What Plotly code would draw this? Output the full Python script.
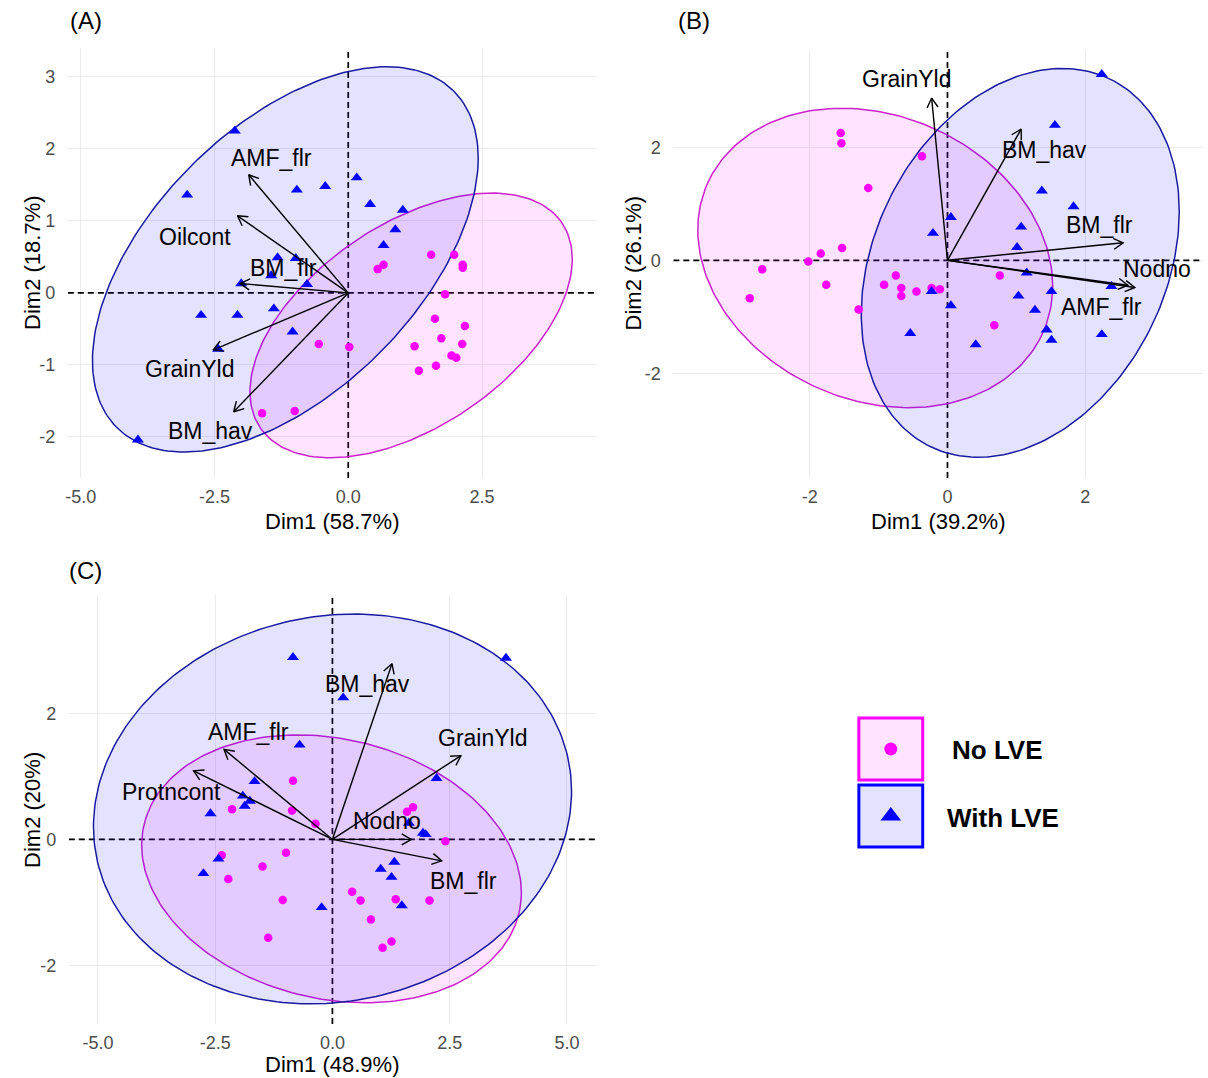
import numpy as np
import plotly.graph_objects as go

W, H = 1208, 1078
FONT = "Arial, 'Liberation Sans', sans-serif"

# ---------------- Panel A ----------------
A_no_x = [1.55, 1.98, 2.14, 2.14, 0.55, 0.66, 1.81, 1.62, 2.18, 1.74, 1.24, 2.13, 1.93, 2.02, 1.64, 1.32, -0.55, 0.02, -1.61, -1.00]
A_no_y = [0.53, 0.53, 0.39, 0.35, 0.33, 0.39, -0.02, -0.36, -0.46, -0.63, -0.74, -0.71, -0.87, -0.90, -1.01, -1.08, -0.71, -0.75, -1.67, -1.64]
A_with_x = [-2.12, -3.01, -0.96, -0.43, 0.16, 0.41, 1.02, 0.88, 0.66, -1.32, -0.98, -1.44, -2.00, -0.77, -2.75, -2.07, -1.39, -1.04, -2.43, -3.93]
A_with_y = [2.25, 1.36, 1.43, 1.48, 1.60, 1.23, 1.15, 0.88, 0.66, 0.49, 0.48, 0.24, 0.13, 0.12, -0.31, -0.31, -0.22, -0.54, -0.78, -2.04]
A_vars = ["AMF_flr", "Oilcont", "BM_flr", "GrainYld", "BM_hav"]
A_var_x = [-1.86, -2.07, -2.02, -2.52, -2.14]
A_var_y = [1.64, 1.07, 0.13, -0.79, -1.65]
A_xticks = [-5.0, -2.5, 0.0, 2.5]
A_yticks = [-2, -1, 0, 1, 2, 3]

# ---------------- Panel B ----------------
B_no_x = [-1.55, -1.54, -0.37, -1.15, -1.53, -1.84, -2.02, -2.69, -1.76, -2.87, -0.75, -0.92, -0.67, -0.67, -0.45, -0.23, -0.11, -1.29, 0.76, 0.68]
B_no_y = [2.25, 2.07, 1.84, 1.28, 0.22, 0.12, -0.02, -0.16, -0.43, -0.67, -0.27, -0.43, -0.49, -0.63, -0.55, -0.49, -0.51, -0.87, -0.27, -1.15]
B_with_x = [2.24, 1.56, 1.37, 1.83, 0.05, -0.21, 1.07, 1.01, 1.15, 2.38, 1.51, -0.23, 1.03, 0.05, 1.27, 1.44, 1.51, -0.54, 0.41, 2.24]
B_with_y = [3.29, 2.39, 1.23, 0.95, 0.76, 0.48, 0.59, 0.23, -0.22, -0.46, -0.55, -0.55, -0.63, -0.80, -0.88, -1.23, -1.41, -1.29, -1.49, -1.31]
B_vars = ["GrainYld", "BM_hav", "BM_flr", "Nodno", "AMF_flr"]
B_var_x = [-0.23, 1.07, 2.55, 2.72, 2.62]
B_var_y = [2.87, 2.32, 0.31, -0.48, -0.44]
B_xticks = [-2, 0, 2]
B_yticks = [-2, 0, 2]

# ---------------- Panel C ----------------
C_no_x = [-0.84, -0.86, -2.14, -0.36, 1.72, 1.59, 2.41, -2.36, -0.99, -1.49, -2.22, -1.06, 0.42, 0.60, 1.35, 2.07, 0.82, -1.37, 1.26, 1.07]
C_no_y = [0.93, 0.46, 0.48, 0.25, 0.51, 0.44, -0.03, -0.25, -0.21, -0.43, -0.63, -0.96, -0.83, -0.97, -0.95, -0.97, -1.27, -1.56, -1.62, -1.72]
C_with_x = [-0.84, 3.70, 0.23, -0.70, 2.22, -1.66, -1.91, -1.76, -1.87, -2.60, 1.63, 1.93, 1.99, -2.43, -2.75, 1.32, 1.03, 1.26, 1.48, -0.23]
C_with_y = [2.89, 2.88, 2.25, 1.50, 0.97, 0.92, 0.69, 0.61, 0.53, 0.41, 0.26, 0.10, 0.08, -0.31, -0.54, -0.36, -0.47, -0.60, -1.05, -1.08]
C_vars = ["BM_hav", "AMF_flr", "Protncont", "GrainYld", "Nodno", "BM_flr"]
C_var_x = [1.27, -2.31, -2.96, 2.74, 1.68, 2.33]
C_var_y = [2.79, 1.43, 1.09, 1.33, 0.00, -0.34]
C_xticks = [-5.0, -2.5, 0.0, 2.5, 5.0]
C_yticks = [-2, 0, 2]

groups = ["No LVE", "With LVE"]

# ---------------- styling / layout (pixels) ----------------
PINK, BLUE = "#FF00FF", "#0000FF"
PINK_LINE, BLUE_LINE = "#CC22CC", "#1A1AA0"
PINK_FILL, BLUE_FILL = "rgba(255,0,255,0.11)", "rgba(0,0,255,0.11)"

GEOM = {
    "A": dict(px=(65, 595), py=(48, 478), xr=(-5.24, 4.64), yr=(-2.57, 3.40), ax="", fmt="{:.1f}",
              xt="Dim1 (58.7%)", yt="Dim2 (18.7%)", xt_pos=(330, 521), yt_pos=(29, 263), lab_pos=(83, 21)),
    "B": dict(px=(672, 1203), py=(50, 478), xr=(-3.98, 3.71), yr=(-3.85, 3.72), ax="2", fmt="{:.0f}",
              xt="Dim1 (39.2%)", yt="Dim2 (26.1%)", xt_pos=(937, 521), yt_pos=(632, 263), lab_pos=(693, 21)),
    "C": dict(px=(66, 594), py=(595, 1024), xr=(-5.62, 5.61), yr=(-2.93, 3.88), ax="3", fmt="{:.1f}",
              xt="Dim1 (48.9%)", yt="Dim2 (20%)", xt_pos=(330, 1064), yt_pos=(29, 810), lab_pos=(83, 570)),
}
# label offsets (px, up positive) relative to arrow tips
LABEL_SHIFT = {
    "A": [(23, 17), (-42, -21), (43, 16), (-24, -19), (-23, -19)],
    "B": [(-25, 19), (23, -21), (-24, 18), (22, 18), (-26, -22)],
    "C": [(-24, -20), (24, 17), (-22, -21), (22, 18), (-24, 18), (22, -20)],
}
DATA = {
    "A": (A_no_x, A_no_y, A_with_x, A_with_y, A_vars, A_var_x, A_var_y, A_xticks, A_yticks),
    "B": (B_no_x, B_no_y, B_with_x, B_with_y, B_vars, B_var_x, B_var_y, B_xticks, B_yticks),
    "C": (C_no_x, C_no_y, C_with_x, C_with_y, C_vars, C_var_x, C_var_y, C_xticks, C_yticks),
}


def ellipse(xs, ys, level=0.95, n=241):
    pts = np.column_stack([xs, ys])
    m = pts.mean(axis=0)
    cov = np.cov(pts, rowvar=False)
    dfd = len(xs) - 1
    qf = dfd / 2 * ((1 - level) ** (-2 / dfd) - 1)  # F(2, dfd) quantile
    r = np.sqrt(2 * qf)
    U = np.linalg.cholesky(cov).T
    t = np.linspace(0, 2 * np.pi, n)
    circ = np.column_stack([np.cos(t), np.sin(t)])
    e = m + r * circ @ U
    return e[:, 0].tolist(), e[:, 1].tolist()


def arrows(vx, vy, g, head=11, ang=30):
    sx = (g["px"][1] - g["px"][0]) / (g["xr"][1] - g["xr"][0])
    sy = (g["py"][1] - g["py"][0]) / (g["yr"][1] - g["yr"][0])
    X, Y = [], []
    a = np.radians(ang)
    for tx, ty in zip(vx, vy):
        X += [0, tx, None]
        Y += [0, ty, None]
        px, py = tx * sx, ty * sy
        L = np.hypot(px, py)
        ux, uy = -px / L, -py / L
        wings = []
        for s in (a, -a):
            wx = ux * np.cos(s) - uy * np.sin(s)
            wy = ux * np.sin(s) + uy * np.cos(s)
            wings.append((float(tx + wx * head / sx), float(ty + wy * head / sy)))
        X += [wings[0][0], tx, wings[1][0], None]
        Y += [wings[0][1], ty, wings[1][1], None]
    return X, Y


fig = go.Figure()
annotations = []
shapes = []
layout = {}


def px_x(p):
    return p / W


def px_y(p):
    return 1 - p / H


DASH = dict(color="black", width=1.7, dash="6px,4px")

for key, g in GEOM.items():
    nx, ny, wx, wy, vars_, vx, vy, xt, yt = DATA[key]
    xa = "x" + g["ax"]
    ya = "y" + g["ax"]
    # dashed zero reference lines
    fig.add_trace(go.Scatter(x=[0, 0], y=list(g["yr"]), mode="lines", line=DASH, xaxis=xa, yaxis=ya,
                             hoverinfo="skip"))
    fig.add_trace(go.Scatter(x=list(g["xr"]), y=[0, 0], mode="lines", line=DASH, xaxis=xa, yaxis=ya,
                             hoverinfo="skip"))
    # ellipses
    for xs, ys, fc, lc in ((nx, ny, PINK_FILL, PINK_LINE), (wx, wy, BLUE_FILL, BLUE_LINE)):
        ex, ey = ellipse(xs, ys)
        fig.add_trace(go.Scatter(x=ex, y=ey, mode="lines", fill="toself", fillcolor=fc,
                                 line=dict(color=lc, width=1.5), xaxis=xa, yaxis=ya, hoverinfo="skip"))
    # points
    fig.add_trace(go.Scatter(x=nx, y=ny, mode="markers", name=groups[0],
                             marker=dict(symbol="circle", size=8.5, color=PINK), xaxis=xa, yaxis=ya))
    fig.add_trace(go.Scatter(x=wx, y=wy, mode="markers", name=groups[1],
                             marker=dict(symbol="triangle-up", size=10.5, color=BLUE), xaxis=xa, yaxis=ya))
    # arrows
    ax_, ay_ = arrows(vx, vy, g)
    fig.add_trace(go.Scatter(x=ax_, y=ay_, mode="lines", line=dict(color="black", width=1.4),
                             xaxis=xa, yaxis=ya, hoverinfo="skip"))
    for name, tx, ty, (dx, dy) in zip(vars_, vx, vy, LABEL_SHIFT[key]):
        annotations.append(dict(x=tx, y=ty, xref=xa, yref=ya, text=name, showarrow=False,
                                xanchor="center", yanchor="middle",
                                xshift=dx, yshift=dy, font=dict(family=FONT, size=23, color="black")))
    # axes
    common = dict(showgrid=True, gridcolor="#EBEBEB", gridwidth=1.2, zeroline=False, showline=False,
                  ticks="outside", tickcolor="rgba(0,0,0,0)",
                  tickfont=dict(family=FONT, size=18, color="#4D4D4D"), fixedrange=True)
    layout["xaxis" + g["ax"]] = dict(common, domain=[px_x(g["px"][0]), px_x(g["px"][1])], ticklen=2,
                                     range=list(g["xr"]), anchor=ya, tickmode="array", tickvals=xt,
                                     ticktext=[g["fmt"].format(v) for v in xt])
    layout["yaxis" + g["ax"]] = dict(common, domain=[px_y(g["py"][1]), px_y(g["py"][0])], ticklen=8,
                                     range=list(g["yr"]), anchor=xa, tickmode="array", tickvals=yt,
                                     ticktext=[str(v) for v in yt])
    # titles
    annotations.append(dict(x=px_x(g["xt_pos"][0]), y=px_y(g["xt_pos"][1]), xref="paper", yref="paper",
                            xanchor="center", yanchor="middle",
                            text=g["xt"], showarrow=False, font=dict(family=FONT, size=22, color="black")))
    annotations.append(dict(x=px_x(g["yt_pos"][0]), y=px_y(g["yt_pos"][1]), xref="paper", yref="paper",
                            xanchor="center", yanchor="middle",
                            text=g["yt"], textangle=-90, showarrow=False,
                            font=dict(family=FONT, size=22, color="black")))
    annotations.append(dict(x=px_x(g["lab_pos"][0]), y=px_y(g["lab_pos"][1]), xref="paper", yref="paper",
                            xanchor="center", yanchor="middle",
                            text="(" + key + ")", showarrow=False, font=dict(family=FONT, size=24, color="black")))

# ---------------- legend (small pixel axis in the empty lower-right area) ----------------
LX, LY = (840, 1080), (700, 870)
layout["xaxis4"] = dict(domain=[px_x(LX[0]), px_x(LX[1])], range=list(LX), visible=False,
                        fixedrange=True, anchor="y4")
layout["yaxis4"] = dict(domain=[px_y(LY[1]), px_y(LY[0])], range=[LY[1], LY[0]], visible=False,
                        fixedrange=True, anchor="x4")
LEG = [  # box (x0,y0,x1,y1), marker centre, text centre
    dict(box=(858, 718, 922, 780), m=(890, 749), t=(997, 750), col=PINK, fill="rgba(255,0,255,0.11)",
         sym="circle", size=13, label=groups[0]),
    dict(box=(858, 785, 922, 847), m=(890, 816), t=(1002, 818), col=BLUE, fill="rgba(0,0,255,0.11)",
         sym="triangle-up", size=18, label=groups[1]),
]
for it in LEG:
    x0, y0, x1, y1 = it["box"]
    shapes.append(dict(type="rect", xref="x4", yref="y4", x0=x0, y0=y0, x1=x1, y1=y1,
                       line=dict(color=it["col"], width=3), fillcolor=it["fill"], layer="below"))
    fig.add_trace(go.Scatter(x=[it["m"][0]], y=[it["m"][1]], mode="markers", xaxis="x4", yaxis="y4",
                             marker=dict(symbol=it["sym"], size=it["size"], color=it["col"]),
                             hoverinfo="skip"))
    annotations.append(dict(x=it["t"][0], y=it["t"][1], xref="x4", yref="y4", text="<b>" + it["label"] + "</b>",
                            xanchor="center", yanchor="middle",
                            showarrow=False, font=dict(family=FONT, size=26, color="black")))

fig.update_layout(width=W, height=H, margin=dict(l=0, r=0, t=0, b=0), showlegend=False,
                  plot_bgcolor="rgba(0,0,0,0)", paper_bgcolor="white", annotations=annotations,
                  shapes=shapes, **layout)
fig.write_html("out.html")
